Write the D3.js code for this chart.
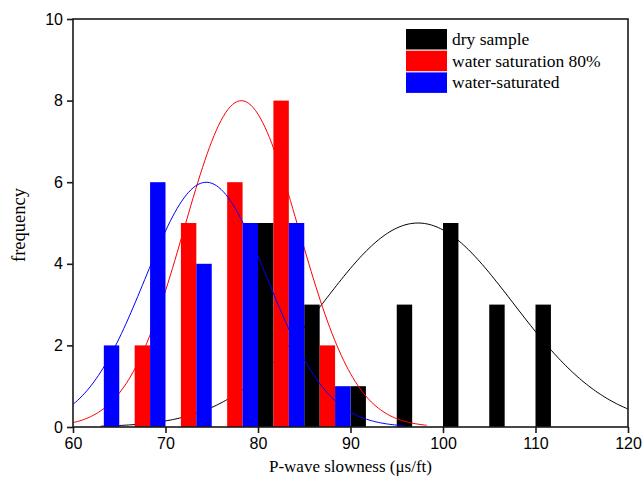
<!DOCTYPE html>
<html>
<head>
<meta charset="utf-8">
<script src="https://cdn.jsdelivr.net/npm/d3@7"></script>
<style>
  body { margin: 0; background: #fff; }
  svg { display: block; }
</style>
</head>
<body>
<svg id="chart" width="644" height="484"></svg>
<script>
// ---- data ----
const binCenters = [62.5, 67.5, 72.5, 77.5, 82.5, 87.5, 92.5, 97.5, 102.5, 107.5, 112.5];
const seriesNames = ["dry sample", "water saturation 80%", "water-saturated"];
const seriesColors = ["#000000", "#ff0000", "#0000ff"];
const dryCounts = [0, 0, 0, 0, 5, 3, 1, 3, 5, 3, 3];
const wet80Counts = [0, 2, 5, 6, 8, 2, 0, 0, 0, 0, 0];
const satCounts = [2, 6, 4, 5, 5, 1, 0, 0, 0, 0, 0];
// fitted normal curves: [mean, sd, peak, xStart, xEnd]
const dryFit = [97.3, 10.3, 5.0, 63, 120];
const wet80Fit = [78.2, 6.2, 8.0, 60, 98.3];
const satFit = [74.4, 6.6, 6.0, 60, 95.9];
const xTicks = [60, 70, 80, 90, 100, 110, 120];
const yTicks = [0, 2, 4, 6, 8, 10];
const binWidth = 5;

const counts = [dryCounts, wet80Counts, satCounts];
const fits = [dryFit, wet80Fit, satFit];

// ---- layout ----
const svg = d3.select("#chart");
const L = 73, R = 628, T = 19, B = 427;
const x = d3.scaleLinear().domain([60, 120]).range([L, R]);
const y = d3.scaleLinear().domain([0, 10]).range([B, T]);

const plot = svg.append("g");
svg.append("clipPath").attr("id", "clip")
  .append("rect").attr("x", L).attr("y", T).attr("width", R - L).attr("height", B - T);
plot.attr("clip-path", "url(#clip)");

const line = d3.line().x(d => x(d[0])).y(d => y(d[1])).curve(d3.curveBasis);

const nS = counts.length;
const sub = binWidth / nS;
counts.forEach((arr, si) => {
  const data = binCenters.map((c, i) => ({ c, v: arr[i] })).filter(d => d.v > 0);
  plot.append("g").selectAll("rect").data(data).enter().append("rect")
    .attr("x", d => x(d.c - binWidth / 2 + si * sub))
    .attr("width", d => x(d.c - binWidth / 2 + (si + 1) * sub) - x(d.c - binWidth / 2 + si * sub))
    .attr("y", d => y(d.v))
    .attr("height", d => y(0) - y(d.v))
    .attr("fill", seriesColors[si]);
  const [mu, sd, pk, x0, x1] = fits[si];
  const pts = d3.range(x0, x1 + 0.001, 0.25).map(v => [v, pk * Math.exp(-((v - mu) ** 2) / (2 * sd * sd))]);
  plot.append("path").attr("d", line(pts)).attr("fill", "none")
    .attr("stroke", seriesColors[si]).attr("stroke-width", 1);
});

// ---- frame & axes ----
svg.append("rect").attr("x", L).attr("y", T).attr("width", R - L).attr("height", B - T)
  .attr("fill", "none").attr("stroke", "#1a1a1a").attr("stroke-width", 1.6);

const xAxis = svg.append("g").attr("transform", `translate(0,${B})`)
  .call(d3.axisBottom(x).tickValues(xTicks).tickSize(6).tickPadding(5).tickFormat(d3.format("d")));
const yAxis = svg.append("g").attr("transform", `translate(${L},0)`)
  .call(d3.axisLeft(y).tickValues(yTicks).tickSize(6).tickPadding(4).tickFormat(d3.format("d")));
[xAxis, yAxis].forEach(g => {
  g.select(".domain").remove();
  g.selectAll(".tick line").attr("stroke", "#1a1a1a").attr("stroke-width", 1.6);
  g.selectAll(".tick text").attr("font-family", "'Liberation Sans', Arial, sans-serif")
    .attr("font-size", 16).attr("fill", "#000");
});

svg.append("text").attr("x", (L + R) / 2).attr("y", 472).attr("text-anchor", "middle")
  .attr("font-family", "'Liberation Serif', 'Times New Roman', serif").attr("font-size", 17)
  .text("P-wave slowness (μs/ft)");
svg.append("text").attr("transform", `translate(25,${(T + B) / 2 + 2}) rotate(-90)`)
  .attr("text-anchor", "middle")
  .attr("font-family", "'Liberation Serif', 'Times New Roman', serif").attr("font-size", 18.5)
  .text("frequency");

// ---- legend ----
const leg = svg.append("g").attr("transform", "translate(406,29)");
seriesNames.forEach((n, i) => {
  leg.append("rect").attr("x", 0).attr("y", i * 21.7).attr("width", 41).attr("height", 20.5)
    .attr("fill", seriesColors[i]);
  leg.append("text").attr("x", 46).attr("y", i * 21.7 + 16)
    .attr("font-family", "'Liberation Serif', 'Times New Roman', serif").attr("font-size", 17.5)
    .text(n);
});
</script>
</body>
</html>
